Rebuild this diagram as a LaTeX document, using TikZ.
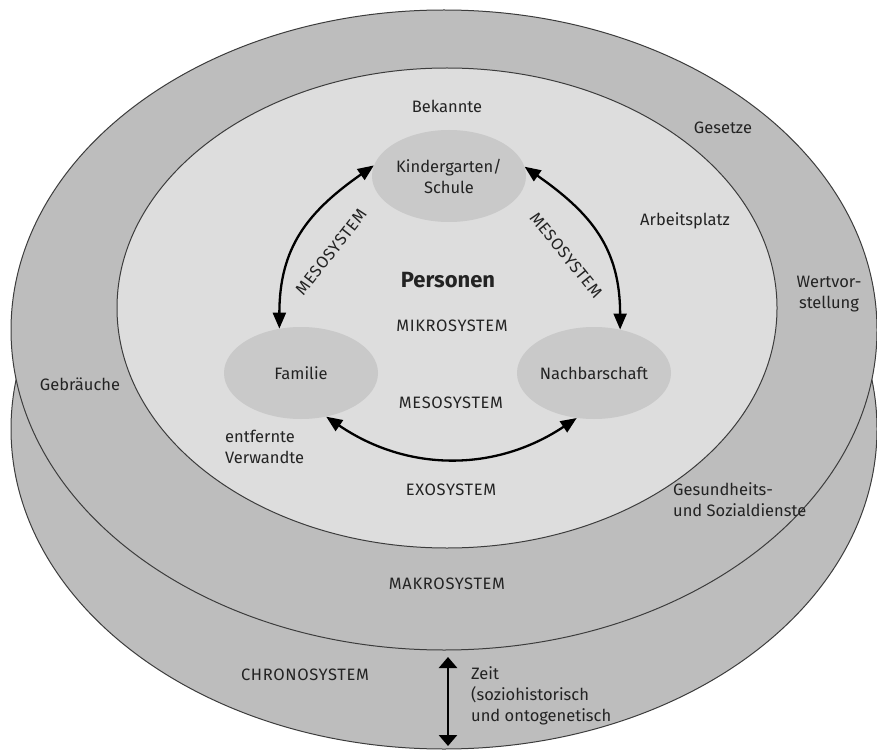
\documentclass[tikz,border=0pt]{standalone}
\usepackage{fontspec}
\setmainfont{Fira Sans}
\newfontfamily\capsfont[LetterSpace=4]{Fira Sans}
\usetikzlibrary{shapes, arrows.meta, positioning}
\definecolor{ringgrey}{RGB}{189,189,189}
\definecolor{exogrey}{RGB}{221,221,221}
\definecolor{microgrey}{RGB}{201,201,201}
\definecolor{rimline}{RGB}{60,60,60}
\definecolor{inktext}{RGB}{35,35,35}

\begin{document}
\begin{tikzpicture}[x=1pt, y=-1pt,
        txt/.style={font=\fontsize{16.5}{21}\selectfont, text=inktext, inner sep=0pt},
        caps/.style={txt, font=\fontsize{16.5}{21}\selectfont\capsfont},
        micro/.style={ellipse, fill=microgrey, minimum width=154pt, minimum height=92pt, inner sep=0pt, align=center, txt},
        meso/.style={{Triangle[length=16pt, width=13pt]}-{Triangle[length=16pt, width=13pt]}, line width=2.3pt, black},
        zeit/.style={{Triangle[length=11pt, width=18pt]}-{Triangle[length=11pt, width=18pt]}, line width=2.8pt, black},
        ring/.style={draw=rimline, line width=1pt}]
        \useasboundingbox (0,0) rectangle (877,751);
        \fill[white] (0,0) rectangle (877,751);
        % chronosystem and makrosystem
        \filldraw[ring, fill=ringgrey] (444,429) ellipse [x radius=433pt, y radius=320pt];
        \filldraw[ring, fill=ringgrey] (444,330) ellipse [x radius=433pt, y radius=320pt];
        % exosystem
        \filldraw[ring, fill=exogrey] (447,308) ellipse [x radius=330pt, y radius=240pt];

        \node [micro] (NK) at (449,176) {Kindergarten/\\Schule};
        \node [micro] (NF) at (301,373) {Familie};
        \node [micro] (NN) at (594,373) {Nachbarschaft};
        \draw [meso] (NF.116) to[out=90, in=-145, looseness=1.1] (NK.172);
        \draw [meso] (NK.7) to[out=-35, in=90, looseness=1.1] (NN.59);
        \draw [meso] (NF.-60) to[bend right=34] (NN.-111);
        \node [caps, rotate=52] (LML) at (331,252) {MESOSYSTEM};
        \node [caps, rotate=-51] (LMR) at (566,255) {MESOSYSTEM};

        \node [txt] (LBek) at (447,106) {Bekannte};
        \node [txt] (LGes) at (723,128) {Gesetze};
        \node [txt] (LArb) at (685,221) {Arbeitsplatz};
        \node [txt, align=center] (LWert) at (829,294) {Wertvor-\\stellung};
        \node [txt, font=\fontsize{22}{26}\selectfont\bfseries] (LPer) at (448,280) {Personen};
        \node [caps] (LMik) at (452,326) {MIKROSYSTEM};
        \node [txt] (LGeb) at (80,384) {Gebräuche};
        \node [caps] (LMes) at (451,403) {MESOSYSTEM};
        \node [txt, align=left, anchor=west] (LEnt) at (225,447) {entfernte\\Verwandte};
        \node [caps] (LExo) at (451,490) {EXOSYSTEM};
        \node [txt, align=left, anchor=west] (LGsd) at (673,500) {Gesundheits-\\und Sozialdienste};
        \node [caps] (LMak) at (447,584) {MAKROSYSTEM};
        \node [caps] (LChr) at (305,675) {CHRONOSYSTEM};
        \node [txt, align=left, anchor=west] (LZeit) at (471,696) {Zeit\\(soziohistorisch\\und ontogenetisch};

        \coordinate (ZT) at (448,657);
        \coordinate (ZB) at (448,746);
        \draw [zeit] (ZT) -- (ZB);
    \end{tikzpicture}
\end{document}
